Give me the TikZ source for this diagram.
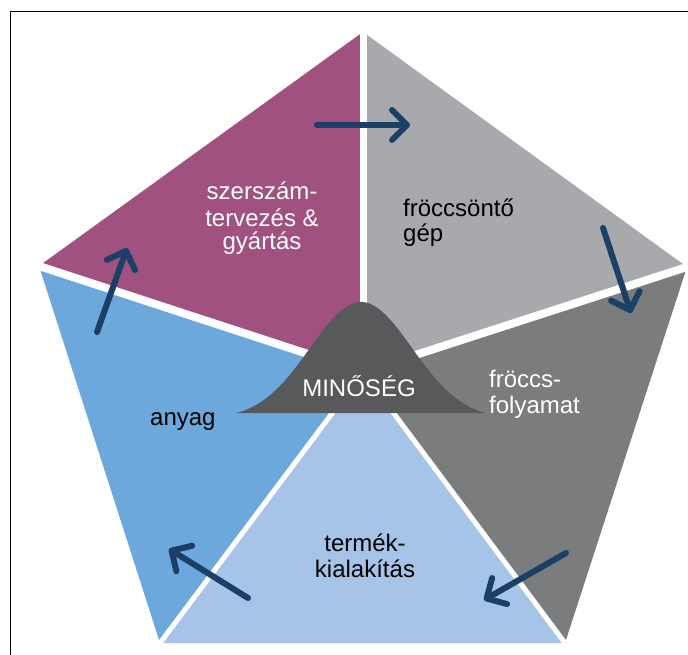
\documentclass[tikz,border=0pt]{standalone}
\usepackage{fontspec}
\setmainfont{Liberation Sans}
\usetikzlibrary{arrows.meta}
\definecolor{magc}{RGB}{160,81,127}
\definecolor{greyc}{RGB}{167,169,172}
\definecolor{dgreyc}{RGB}{123,124,126}
\definecolor{bluec}{RGB}{108,168,220}
\definecolor{lbluec}{RGB}{166,196,232}
\definecolor{bellc}{RGB}{88,89,91}
\definecolor{navyc}{RGB}{27,63,102}
\begin{document}
\begin{tikzpicture}[x=1pt,y=-1pt,
  lbl/.style={font=\fontsize{24}{25}\selectfont, inner sep=0pt, anchor=base},
  gap/.style={white, line width=7pt},
  arr/.style={draw=navyc, line width=6pt, line cap=round,
    -{Straight Barb[length=15pt,width=30pt,round]}}]
\useasboundingbox (0,0) rectangle (688,655);
\fill[white] (0,0) rectangle (688,655);
\draw[line width=1.5pt] (10.5,655) -- (10.5,11.5) -- (688,11.5);
% pentagon vertices
\coordinate (C) at (363,372);
\coordinate (T) at (363,32);
\coordinate (R) at (687,267);
\coordinate (BR) at (565,643);
\coordinate (BL) at (160,643);
\coordinate (L) at (39,266);
% sectors
\fill[magc] (C) -- (L) -- (T) -- cycle;
\fill[greyc] (C) -- (T) -- (R) -- cycle;
\fill[dgreyc] (C) -- (R) -- (BR) -- cycle;
\fill[lbluec] (C) -- (BR) -- (BL) -- cycle;
\fill[bluec] (C) -- (BL) -- (L) -- cycle;
% white gaps
\draw[gap] (C) -- (T);
\draw[gap, line width=8pt] (C) -- (R);
\draw[gap, line width=5pt] (C) -- (BR);
\draw[gap, line width=5pt] (C) -- (BL);
\draw[gap, line width=8pt] (C) -- (L);
% bell curve
\fill[bellc] plot[domain=-125:125, samples=120] ({361+\x}, {411-(117*exp(-0.5*(\x/51)^2)-8)}) -- cycle;
\node[lbl, white] (q) at (359,396) {MINŐSÉG};
% labels
\node[lbl, white] (sz1) at (262,200) {szerszám-};
\node[lbl, white] (sz2) at (262,226) {tervezés \&};
\node[lbl, white] (sz3) at (262,250) {gyártás};
\node[lbl, anchor=base west] (fg1) at (403,217) {fröccsöntő};
\node[lbl, anchor=base west] (fg2) at (403,241) {gép};
\node[lbl, white, anchor=base west] (ff1) at (489,387) {fröccs-};
\node[lbl, white, anchor=base west] (ff2) at (489,413) {folyamat};
\node[lbl, anchor=base west] (an) at (150,425) {anyag};
\node[lbl] (tk1) at (365,551) {termék-};
\node[lbl] (tk2) at (365,577) {kialakítás};
% arrows
\coordinate (a1s) at (317,125); \coordinate (a1e) at (410,125);
\coordinate (a2s) at (603,228); \coordinate (a2e) at (631,313);
\coordinate (a3s) at (566,553); \coordinate (a3e) at (484,600);
\coordinate (a4s) at (248,598); \coordinate (a4e) at (169,549);
\coordinate (a5s) at (97,332);  \coordinate (a5e) at (127,248);
\draw[arr] (a1s) -- (a1e);
\draw[arr] (a2s) -- (a2e);
\draw[arr] (a3s) -- (a3e);
\draw[arr] (a4s) -- (a4e);
\draw[arr] (a5s) -- (a5e);
\end{tikzpicture}
\end{document}
